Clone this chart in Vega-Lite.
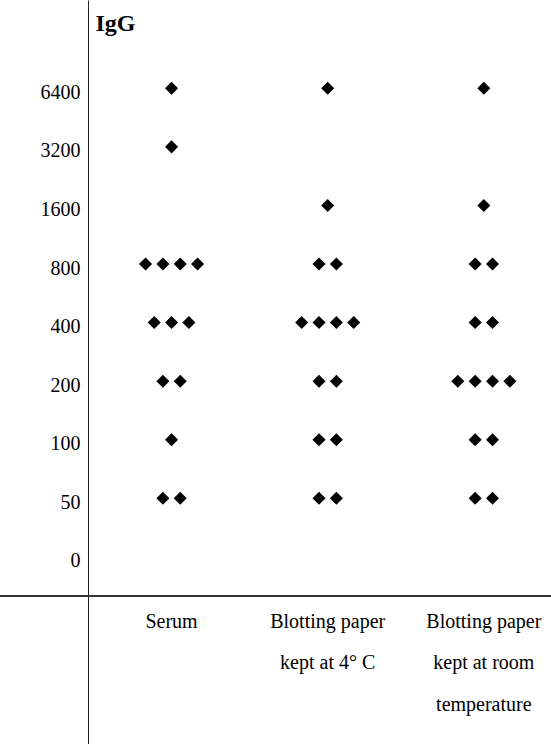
{
  "$schema": "https://vega.github.io/schema/vega-lite/v6.json",
  "width": 551,
  "height": 744,
  "padding": 0,
  "autosize": {"type": "none"},
  "background": "white",
  "config": {"view": {"stroke": null}, "font": "Liberation Serif"},
  "data": {
    "values": [
      {"group": "Serum", "titer": 6400, "slot": 0},
      {"group": "Serum", "titer": 3200, "slot": 0},
      {"group": "Serum", "titer": 800, "slot": -1.5},
      {"group": "Serum", "titer": 800, "slot": -0.5},
      {"group": "Serum", "titer": 800, "slot": 0.5},
      {"group": "Serum", "titer": 800, "slot": 1.5},
      {"group": "Serum", "titer": 400, "slot": -1},
      {"group": "Serum", "titer": 400, "slot": 0},
      {"group": "Serum", "titer": 400, "slot": 1},
      {"group": "Serum", "titer": 200, "slot": -0.5},
      {"group": "Serum", "titer": 200, "slot": 0.5},
      {"group": "Serum", "titer": 100, "slot": 0},
      {"group": "Serum", "titer": 50, "slot": -0.5},
      {"group": "Serum", "titer": 50, "slot": 0.5},
      {"group": "Blotting paper kept at 4° C", "titer": 6400, "slot": 0},
      {"group": "Blotting paper kept at 4° C", "titer": 1600, "slot": 0},
      {"group": "Blotting paper kept at 4° C", "titer": 800, "slot": -0.5},
      {"group": "Blotting paper kept at 4° C", "titer": 800, "slot": 0.5},
      {"group": "Blotting paper kept at 4° C", "titer": 400, "slot": -1.5},
      {"group": "Blotting paper kept at 4° C", "titer": 400, "slot": -0.5},
      {"group": "Blotting paper kept at 4° C", "titer": 400, "slot": 0.5},
      {"group": "Blotting paper kept at 4° C", "titer": 400, "slot": 1.5},
      {"group": "Blotting paper kept at 4° C", "titer": 200, "slot": -0.5},
      {"group": "Blotting paper kept at 4° C", "titer": 200, "slot": 0.5},
      {"group": "Blotting paper kept at 4° C", "titer": 100, "slot": -0.5},
      {"group": "Blotting paper kept at 4° C", "titer": 100, "slot": 0.5},
      {"group": "Blotting paper kept at 4° C", "titer": 50, "slot": -0.5},
      {"group": "Blotting paper kept at 4° C", "titer": 50, "slot": 0.5},
      {"group": "Blotting paper kept at room temperature", "titer": 6400, "slot": 0},
      {"group": "Blotting paper kept at room temperature", "titer": 1600, "slot": 0},
      {"group": "Blotting paper kept at room temperature", "titer": 800, "slot": -0.5},
      {"group": "Blotting paper kept at room temperature", "titer": 800, "slot": 0.5},
      {"group": "Blotting paper kept at room temperature", "titer": 400, "slot": -0.5},
      {"group": "Blotting paper kept at room temperature", "titer": 400, "slot": 0.5},
      {"group": "Blotting paper kept at room temperature", "titer": 200, "slot": -1.5},
      {"group": "Blotting paper kept at room temperature", "titer": 200, "slot": -0.5},
      {"group": "Blotting paper kept at room temperature", "titer": 200, "slot": 0.5},
      {"group": "Blotting paper kept at room temperature", "titer": 200, "slot": 1.5},
      {"group": "Blotting paper kept at room temperature", "titer": 100, "slot": -0.5},
      {"group": "Blotting paper kept at room temperature", "titer": 100, "slot": 0.5},
      {"group": "Blotting paper kept at room temperature", "titer": 50, "slot": -0.5},
      {"group": "Blotting paper kept at room temperature", "titer": 50, "slot": 0.5}
    ]
  },
  "layer": [
    {
      "mark": {"type": "point", "shape": "diamond", "filled": true, "color": "black", "size": 170, "opacity": 1},
      "encoding": {
        "x": {
          "field": "group",
          "type": "nominal",
          "sort": null,
          "scale": {
            "domain": ["Serum", "Blotting paper kept at 4° C", "Blotting paper kept at room temperature"],
            "range": [93.5, 561.9],
            "paddingInner": 0,
            "paddingOuter": 0
          },
          "axis": {
            "title": null,
            "orient": "bottom",
            "offset": -148,
            "domain": false,
            "ticks": false,
            "grid": false,
            "labelAngle": 0,
            "labelFont": "Liberation Serif",
            "labelFontSize": 20,
            "labelColor": "black",
            "labelPadding": 31,
            "labelBaseline": "alphabetic",
            "labelLineHeight": 41.5,
            "labelLimit": 0,
            "labelOverlap": false,
            "labelExpr": "datum.value == 'Serum' ? 'Serum' : (datum.value == 'Blotting paper kept at 4° C' ? ['Blotting paper', 'kept at 4° C'] : ['Blotting paper', 'kept at room', 'temperature'])"
          }
        },
        "xOffset": {
          "field": "slot",
          "type": "nominal",
          "scale": {
            "domain": [-4.5, -4, -3.5, -3, -2.5, -2, -1.5, -1, -0.5, 0, 0.5, 1, 1.5, 2, 2.5, 3, 3.5, 4, 4.5],
            "paddingInner": 0,
            "paddingOuter": 0
          }
        },
        "y": {
          "field": "titer",
          "type": "quantitative",
          "scale": {"type": "log", "base": 2, "domain": [2.73, 18194], "nice": false, "zero": false},
          "axis": {
            "title": "IgG",
            "titleAngle": 0,
            "titleAlign": "left",
            "titleBaseline": "alphabetic",
            "titleX": 7,
            "titleY": 30,
            "titleFont": "Liberation Serif",
            "titleFontSize": 24,
            "titleFontWeight": "bold",
            "titleColor": "black",
            "values": [25, 50, 100, 200, 400, 800, 1600, 3200, 6400],
            "format": "d",
            "labelExpr": "datum.value == 25 ? '0' : datum.label",
            "labelFont": "Liberation Serif",
            "labelFontSize": 20,
            "labelColor": "black",
            "labelPadding": 8,
            "labelOffset": 4,
            "ticks": false,
            "grid": false,
            "domainColor": "#222",
            "domainWidth": 1,
            "offset": -88
          }
        }
      }
    },
    {
      "mark": {"type": "rule", "color": "#333", "strokeWidth": 1.5},
      "encoding": {"y": {"datum": 15.74, "type": "quantitative"}}
    }
  ]
}
